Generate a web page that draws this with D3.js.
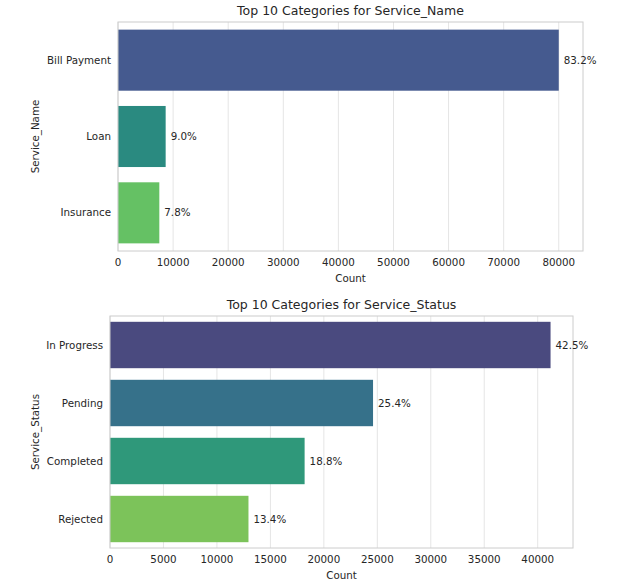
<!DOCTYPE html><html><head><meta charset="utf-8"><script src="https://cdn.jsdelivr.net/npm/d3@7"></script>
<style>body{margin:0;background:#fff}text{font-family:"DejaVu Sans",sans-serif;fill:#262626}</style></head><body><svg id="c" width="639" height="588"></svg>
<script>
const nameCats=["Bill Payment","Loan","Insurance"];
const nameVals=[80000,8650,7500];
const namePct=["83.2%","9.0%","7.8%"];
const nameColors=["#455a8f","#2a8a80","#65c164"];
const statCats=["In Progress","Pending","Completed","Rejected"];
const statVals=[41200,24600,18200,12950];
const statPct=["42.5%","25.4%","18.8%","13.4%"];
const statColors=["#4a4a7f","#36718a","#2f987a","#7cc35a"];
const nameTicks=[0,10000,20000,30000,40000,50000,60000,70000,80000];
const statTicks=[0,5000,10000,15000,20000,25000,30000,35000,40000];
const svg=d3.select("#c");
function chart(o){
  const g=svg.append("g");
  const x=d3.scaleLinear().domain([0,o.xmax]).range([o.x0,o.x1]);
  const y=d3.scaleBand().domain(o.cats).range([o.y0,o.y1]).paddingInner(0.2).paddingOuter(0.1);
  g.selectAll(".gl").data(o.ticks).enter().append("line").attr("x1",d=>x(d)).attr("x2",d=>x(d)).attr("y1",o.y0).attr("y2",o.y1).attr("stroke","#e5e5e5");
  g.selectAll(".b").data(o.cats).enter().append("rect").attr("x",x(0)).attr("y",d=>y(d)).attr("height",y.bandwidth()).attr("width",(d,i)=>x(o.vals[i])-x(0)).attr("fill",(d,i)=>o.colors[i]);
  g.append("rect").attr("x",o.x0).attr("y",o.y0).attr("width",o.x1-o.x0).attr("height",o.y1-o.y0).attr("fill","none").attr("stroke","#cccccc");
  g.selectAll(".p").data(o.cats).enter().append("text").attr("x",(d,i)=>x(o.vals[i])+5).attr("y",d=>y(d)+y.bandwidth()/2).attr("dy","0.35em").attr("font-size",10.3).text((d,i)=>o.pct[i]);
  g.selectAll(".yl").data(o.cats).enter().append("text").attr("x",o.x0-7).attr("y",d=>y(d)+y.bandwidth()/2).attr("dy","0.35em").attr("text-anchor","end").attr("font-size",10.3).text(d=>d);
  g.selectAll(".xl").data(o.ticks).enter().append("text").attr("x",d=>x(d)).attr("y",o.y1+15).attr("text-anchor","middle").attr("font-size",10.3).text(d=>d);
  g.append("text").attr("x",(o.x0+o.x1)/2).attr("y",o.y1+31).attr("text-anchor","middle").attr("font-size",10.3).text("Count");
  g.append("text").attr("transform",`translate(${o.ylx},${(o.y0+o.y1)/2}) rotate(-90)`).attr("text-anchor","middle").attr("font-size",10.3).text(o.ylab);
  g.append("text").attr("x",(o.x0+o.x1)/2).attr("y",o.y0-7).attr("text-anchor","middle").attr("font-size",12.5).text(o.title);
}
chart({cats:nameCats,vals:nameVals,pct:namePct,colors:nameColors,ticks:nameTicks,xmax:84400,x0:118,x1:583,y0:22,y1:251,ylx:39,ylab:"Service_Name",title:"Top 10 Categories for Service_Name"});
chart({cats:statCats,vals:statVals,pct:statPct,colors:statColors,ticks:statTicks,xmax:43300,x0:110,x1:573,y0:316,y1:548,ylx:39,ylab:"Service_Status",title:"Top 10 Categories for Service_Status"});
</script></body></html>
